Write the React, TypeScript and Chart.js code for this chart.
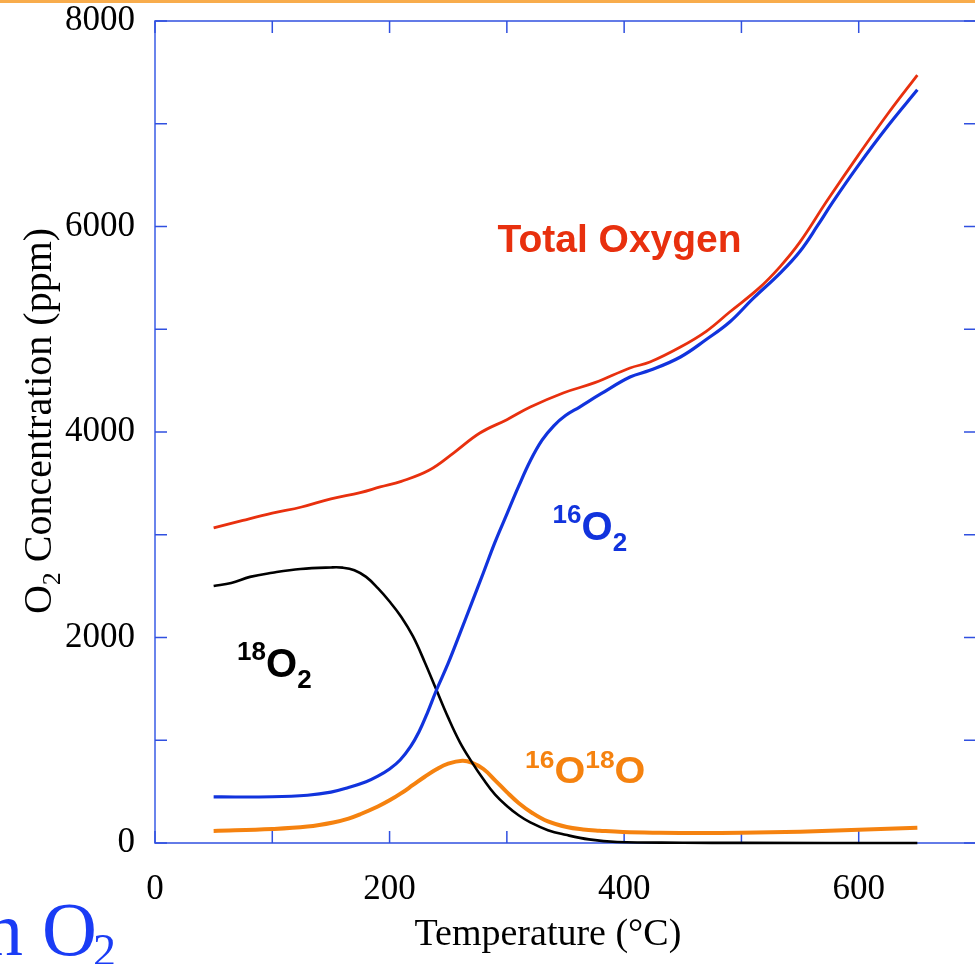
import React, { useEffect, useRef } from "react";
import { Chart, registerables } from "chart.js";
Chart.register(...registerables);

// ---- data (temperature in °C, concentration in ppm) ----
const totalTemp = [50, 75, 100, 125, 150, 175, 192, 210, 234, 255, 277, 300, 320, 348, 375, 405, 422, 448, 470, 490, 515, 533, 550, 573, 600, 625, 650];
const totalOxygen = [3066, 3140, 3210, 3270, 3350, 3410, 3465, 3520, 3630, 3800, 3990, 4120, 4243, 4380, 4480, 4623, 4681, 4827, 4980, 5168, 5400, 5610, 5850, 6250, 6700, 7100, 7474];

const o16Temp = [50, 100, 130, 150, 165, 180, 190, 200, 209, 218, 225, 232, 240, 250, 260, 270, 280, 290, 300, 310, 320, 330, 340, 350, 362, 380, 405, 422, 448, 470, 490, 510, 533, 550, 565, 578, 600, 625, 650];
const o16 = [448, 450, 465, 495, 540, 596, 650, 720, 808, 940, 1080, 1260, 1489, 1750, 2040, 2335, 2630, 2930, 3200, 3470, 3720, 3920, 4060, 4160, 4243, 4370, 4535, 4600, 4730, 4900, 5070, 5300, 5547, 5760, 6010, 6240, 6600, 6980, 7330];

const o18Temp = [50, 65, 81, 100, 124, 150, 160, 170, 180, 190, 200, 210, 220, 230, 240, 250, 260, 270, 280, 290, 300, 310, 320, 335, 350, 370, 394, 450, 500, 650];
const o18 = [2501, 2530, 2590, 2630, 2667, 2682, 2680, 2655, 2590, 2480, 2350, 2200, 2010, 1760, 1489, 1220, 980, 790, 620, 470, 360, 270, 200, 125, 80, 35, 10, 3, 1, 0];

const o1618Temp = [50, 100, 130, 152, 165, 175, 190, 200, 210, 220, 230, 240, 250, 262, 270, 280, 290, 300, 310, 322, 335, 351, 365, 379, 399, 430, 465, 500, 550, 600, 650];
const o1618 = [117, 136, 160, 200, 238, 280, 355, 415, 485, 565, 645, 718, 772, 800, 782, 720, 610, 495, 390, 290, 210, 155, 132, 120, 107, 100, 97, 100, 110, 128, 148];

const xTicksAll = [0, 100, 200, 300, 400, 500, 600, 700];
const xTickLabels = [0, 200, 400, 600];
const yTicksAll = [0, 1000, 2000, 3000, 4000, 5000, 6000, 7000, 8000];
const yTickLabels = [0, 2000, 4000, 6000, 8000];

const RED = "#e8300e";
const BLUE = "#1133dd";
const ORANGE = "#f5820f";
const BLACK = "#000000";
const FRAME = "#3050e0";

type Part = [string, "sup" | "base" | "sub"];
const labels: { parts: Part[]; t: number; c: number; color: string; base: number; small: number; sx: number }[] = [
  { parts: [["Total Oxygen", "base"]], t: 292, c: 5750, color: RED, base: 39, small: 26, sx: 1 },
  { parts: [["16", "sup"], ["O", "base"], ["2", "sub"]], t: 339, c: 2949, color: BLUE, base: 40, small: 26, sx: 1 },
  { parts: [["18", "sup"], ["O", "base"], ["2", "sub"]], t: 70, c: 1616, color: BLACK, base: 40, small: 26, sx: 1 },
  { parts: [["16", "sup"], ["O", "base"], ["18", "sup"], ["O", "base"]], t: 315.5, c: 584, color: ORANGE, base: 36, small: 24, sx: 1.1 },
];

function pts(xs: number[], ys: number[]) {
  return xs.map((x, i) => ({ x, y: ys[i] }));
}

function drawParts(ctx: CanvasRenderingContext2D, x: number, y: number, parts: Part[], color: string, base: number, small: number, sx: number) {
  ctx.save();
  ctx.translate(x, y);
  ctx.scale(sx, 1);
  ctx.fillStyle = color;
  ctx.textBaseline = "alphabetic";
  ctx.textAlign = "left";
  let cx = 0;
  for (const [txt, kind] of parts) {
    const size = kind === "base" ? base : small;
    ctx.font = `bold ${size}px "Liberation Sans", Arial, sans-serif`;
    const dy = kind === "sup" ? -base * 0.42 : kind === "sub" ? base * 0.28 : 0;
    ctx.fillText(txt, cx, dy);
    cx += ctx.measureText(txt).width;
  }
  ctx.restore();
}

const decorPlugin = {
  id: "decor",
  beforeDatasetsDraw(chart: any) {
    const ctx: CanvasRenderingContext2D = chart.ctx;
    const { left, right, top, bottom } = chart.chartArea;
    const xs = chart.scales.x;
    const ys = chart.scales.y;
    ctx.save();
    // slide band at top
    ctx.fillStyle = "#f8ac4c";
    ctx.fillRect(0, 0, chart.width, 3);
    // frame
    ctx.strokeStyle = FRAME;
    ctx.lineWidth = 1.5;
    ctx.strokeRect(left, top, right - left, bottom - top);
    ctx.strokeStyle = "#6a84ec";
    ctx.lineWidth = 2;
    ctx.beginPath();
    ctx.moveTo(left, top);
    ctx.lineTo(left, bottom);
    ctx.stroke();
    // inner ticks
    ctx.strokeStyle = FRAME;
    ctx.lineWidth = 1.5;
    const tl = 12;
    ctx.beginPath();
    for (const v of xTicksAll) {
      const p = xs.getPixelForValue(v);
      ctx.moveTo(p, bottom);
      ctx.lineTo(p, bottom - tl);
      ctx.moveTo(p, top);
      ctx.lineTo(p, top + tl);
    }
    for (const v of yTicksAll) {
      const p = ys.getPixelForValue(v);
      ctx.moveTo(left, p);
      ctx.lineTo(left + tl, p);
      ctx.moveTo(right, p);
      ctx.lineTo(right - tl, p);
    }
    ctx.stroke();

    // axis titles
    ctx.fillStyle = "#000";
    ctx.textBaseline = "alphabetic";
    ctx.font = `38px "Liberation Serif", "Times New Roman", serif`;
    ctx.textAlign = "center";
    ctx.fillText("Temperature (°C)", xs.getPixelForValue(335), 945);

    // y title rotated with subscript
    ctx.save();
    const yc = (top + bottom) / 2 - 11;
    ctx.translate(51, yc);
    ctx.rotate(-Math.PI / 2);
    const big = `40px "Liberation Serif", "Times New Roman", serif`;
    const sm = `26px "Liberation Serif", "Times New Roman", serif`;
    ctx.font = big;
    const wO = ctx.measureText("O").width;
    const wRest = ctx.measureText(" Concentration (ppm)").width;
    ctx.font = sm;
    const w2 = ctx.measureText("2").width;
    const total = wO + w2 + wRest;
    let cx = -total / 2;
    ctx.textAlign = "left";
    ctx.font = big;
    ctx.fillText("O", cx, 0);
    cx += wO;
    ctx.font = sm;
    ctx.fillText("2", cx, 9);
    cx += w2;
    ctx.font = big;
    ctx.fillText(" Concentration (ppm)", cx, 0);
    ctx.restore();

    // slide title fragment
    ctx.fillStyle = "#1a3cf5";
    ctx.font = `76px "Liberation Serif", "Times New Roman", serif`;
    ctx.textAlign = "left";
    ctx.fillText("n O", -15, 955);
    const wn = ctx.measureText("n O").width;
    ctx.font = `46px "Liberation Serif", "Times New Roman", serif`;
    ctx.fillText("2", -15 + wn - 4, 966);
    ctx.restore();
  },
  afterDatasetsDraw(chart: any) {
    const ctx: CanvasRenderingContext2D = chart.ctx;
    const xs = chart.scales.x;
    const ys = chart.scales.y;
    for (const l of labels) {
      drawParts(ctx, xs.getPixelForValue(l.t), ys.getPixelForValue(l.c), l.parts, l.color, l.base, l.small, l.sx);
    }
  },
};

export default function App() {
  const ref = useRef<HTMLCanvasElement | null>(null);
  useEffect(() => {
    if (!ref.current) return;
    const tickFont = { family: '"Liberation Serif", "Times New Roman", serif', size: 35 };
    const chart = new Chart(ref.current, {
      type: "line",
      data: {
        datasets: [
          { label: "Total Oxygen", data: pts(totalTemp, totalOxygen), borderColor: RED, borderWidth: 2.8 },
          { label: "16O2", data: pts(o16Temp, o16), borderColor: BLUE, borderWidth: 3.2 },
          { label: "18O2", data: pts(o18Temp, o18), borderColor: BLACK, borderWidth: 2.6 },
          { label: "16O18O", data: pts(o1618Temp, o1618), borderColor: ORANGE, borderWidth: 4 },
        ].map((d) => ({ ...d, pointRadius: 0, tension: 0.4, fill: false, clip: false as any })),
      },
      options: {
        animation: false,
        responsive: false,
        events: [],
        layout: { padding: { top: 21, right: 14, left: 0, bottom: 0 } },
        plugins: { legend: { display: false }, tooltip: { enabled: false }, title: { display: false } },
        scales: {
          x: {
            type: "linear",
            min: 0,
            max: 700,
            grid: { display: false, drawTicks: false },
            border: { display: false },
            afterBuildTicks: (s: any) => { s.ticks = xTickLabels.map((v) => ({ value: v })); },
            afterFit: (s: any) => { s.height = 121; s.paddingLeft = 0; s.paddingRight = 0; },
            ticks: { color: "#000", font: tickFont, padding: 26, maxRotation: 0, autoSkip: false, callback: (v: any) => String(v) },
          },
          y: {
            type: "linear",
            min: 0,
            max: 8000,
            grid: { display: false, drawTicks: false },
            border: { display: false },
            afterBuildTicks: (s: any) => { s.ticks = yTickLabels.map((v) => ({ value: v })); },
            afterFit: (s: any) => { s.width = 155; s.paddingTop = 0; s.paddingBottom = 0; },
            ticks: { color: "#000", font: tickFont, padding: 20, autoSkip: false, callback: (v: any) => String(v) },
          },
        },
      },
      plugins: [decorPlugin],
    });
    return () => chart.destroy();
  }, []);
  return (
    <div style={{ position: "absolute", left: 0, top: 0, width: 975, height: 964, overflow: "hidden", background: "#fff" }}>
      <canvas ref={ref} width={990} height={964} style={{ display: "block" }} />
    </div>
  );
}
